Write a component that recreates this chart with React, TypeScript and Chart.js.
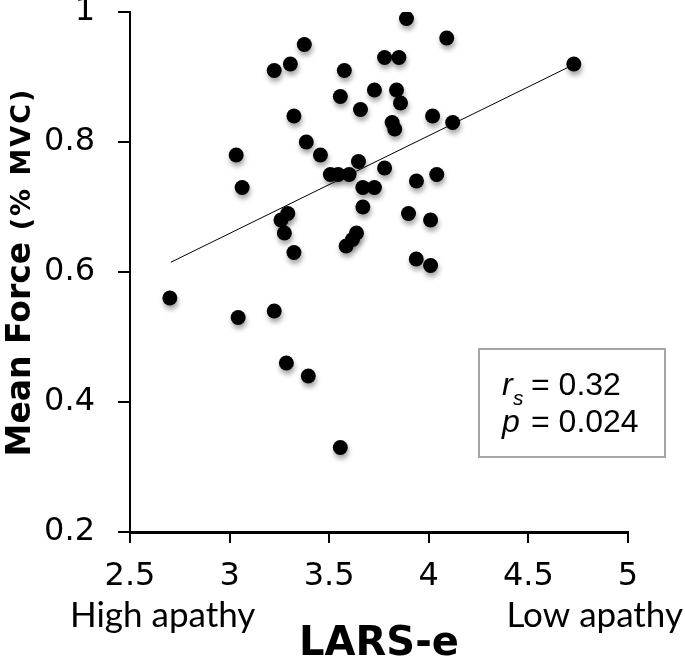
import React, { useEffect, useRef } from 'react';
import { Chart, registerables } from 'chart.js';

Chart.register(...registerables);

// LARS-e score (x) and mean force (y) per participant
const larsE = [
  3.375, 3.305, 3.224, 3.576, 3.556, 3.657, 3.323, 3.385, 3.456, 3.033,
  3.063, 3.506, 3.545, 3.600, 3.647, 3.258, 3.292, 3.275, 3.888, 4.090,
  3.778, 3.850, 4.728, 3.727, 3.838, 3.858, 3.816, 3.829, 4.019, 4.120,
  3.778, 3.669, 3.727, 3.938, 4.040, 3.669, 3.898, 4.009, 3.637, 3.617,
  3.585, 3.323, 2.700, 3.043, 3.224, 3.285, 3.395, 3.556, 3.937, 4.009,
];
const meanForce = [
  0.95, 0.92, 0.91, 0.91, 0.87, 0.85, 0.84, 0.80, 0.78, 0.78,
  0.73, 0.75, 0.75, 0.75, 0.77, 0.68, 0.69, 0.66, 0.99, 0.96,
  0.93, 0.93, 0.92, 0.88, 0.88, 0.86, 0.83, 0.82, 0.84, 0.83,
  0.76, 0.73, 0.73, 0.74, 0.75, 0.70, 0.69, 0.68, 0.66, 0.65,
  0.64, 0.63, 0.56, 0.53, 0.54, 0.46, 0.44, 0.33, 0.62, 0.61,
];

// Trend line end points
const trendX = [2.705, 4.70];
const trendY = [0.615, 0.915];

const xTickLabels = ['2.5', '3', '3.5', '4', '4.5', '5'];
const yTickLabels = ['0.2', '0.4', '0.6', '0.8', '1'];
const xEndLabels = ['High apathy', 'Low apathy'];
const xTitle = 'LARS-e';
const yTitleMain = 'Mean Force';
const yTitleUnit = '(% MVC)';
const statSymbols = ['r', 'p'];
const statSubscripts = ['s', ''];
const statValues = ['= 0.32', '= 0.024'];

const shadowPlugin = {
  id: 'dotShadow',
  beforeDatasetDraw(chart: any, args: any) {
    if (args.index === 1) {
      const c = chart.ctx;
      c.save();
      c.shadowColor = 'rgba(0,0,0,0.35)';
      c.shadowBlur = 5;
      c.shadowOffsetX = 1;
      c.shadowOffsetY = 4;
    }
  },
  afterDatasetDraw(chart: any, args: any) {
    if (args.index === 1) chart.ctx.restore();
  },
};

const textPlugin = {
  id: 'extraText',
  afterDraw(chart: any) {
    const ctx = chart.ctx;
    const area = chart.chartArea;
    ctx.save();
    ctx.fillStyle = '#000';

    // y-axis title (two font sizes, same baseline)
    ctx.save();
    const mainFont = 'bold 33px "DejaVu Sans"';
    const unitFont = 'bold 27px "DejaVu Sans"';
    ctx.font = mainFont;
    const wMain = ctx.measureText(yTitleMain + ' ').width;
    ctx.font = unitFont;
    (ctx as any).letterSpacing = '2px';
    const wUnit = ctx.measureText(yTitleUnit).width;
    (ctx as any).letterSpacing = '0px';
    const total = wMain + wUnit;
    const cy = (area.top + area.bottom) / 2;
    ctx.translate(30, cy + total / 2);
    ctx.rotate(-Math.PI / 2);
    ctx.textAlign = 'left';
    ctx.textBaseline = 'alphabetic';
    ctx.font = mainFont;
    ctx.fillText(yTitleMain, 0, 0);
    ctx.font = unitFont;
    (ctx as any).letterSpacing = '2px';
    ctx.fillText(yTitleUnit, wMain, 0);
    (ctx as any).letterSpacing = '0px';
    ctx.restore();

    // end labels under the x axis
    ctx.font = '35px Lato';
    ctx.textBaseline = 'alphabetic';
    ctx.textAlign = 'left';
    ctx.fillText(xEndLabels[0], 70, 627);
    ctx.textAlign = 'right';
    ctx.fillText(xEndLabels[1], 683, 627);

    // statistics box
    ctx.strokeStyle = '#a6a6a6';
    ctx.lineWidth = 2;
    ctx.strokeRect(479, 349, 186, 108);
    ctx.textAlign = 'left';
    const baselines = [395, 432];
    for (let i = 0; i < statSymbols.length; i++) {
      ctx.font = 'italic 32px "Liberation Sans"';
      ctx.fillText(statSymbols[i], 502, baselines[i]);
      if (statSubscripts[i]) {
        ctx.font = 'italic 21px "Liberation Sans"';
        ctx.fillText(statSubscripts[i], 513, baselines[i] + 10);
      }
      ctx.font = '32px "Liberation Sans"';
      ctx.fillText(statValues[i], 531, baselines[i]);
    }
    ctx.restore();
  },
};

export default function App() {
  const ref = useRef<HTMLCanvasElement | null>(null);

  useEffect(() => {
    if (!ref.current) return;
    const points = larsE.map((x, i) => ({ x, y: meanForce[i] }));
    const trend = trendX.map((x, i) => ({ x, y: trendY[i] }));
    const tickFont = { family: '"DejaVu Sans"', size: 32 };
    const chart = new Chart(ref.current, {
      type: 'scatter',
      data: {
        datasets: [
          {
            label: 'trend',
            data: trend,
            showLine: true,
            borderColor: '#000',
            borderWidth: 1,
            pointRadius: 0,
            fill: false,
          },
          {
            label: 'participants',
            data: points,
            pointRadius: 7.5,
            pointBackgroundColor: '#000',
            pointBorderColor: '#000',
            pointBorderWidth: 0,
          },
        ],
      },
      options: {
        animation: false,
        responsive: false,
        devicePixelRatio: 1,
        layout: { padding: { top: 12, left: 0, right: 57, bottom: 0 } },
        plugins: {
          legend: { display: false },
          tooltip: { enabled: false },
        },
        scales: {
          x: {
            type: 'linear',
            min: 2.5,
            max: 5,
            ticks: {
              stepSize: 0.5,
              color: '#000',
              font: tickFont,
              padding: 14,
              maxRotation: 0,
              autoSkip: false,
              callback: (_v: any, i: number) => xTickLabels[i],
            },
            grid: {
              display: true,
              drawOnChartArea: false,
              drawTicks: true,
              tickLength: 11,
              color: '#000',
              lineWidth: 2,
            },
            border: { display: true, color: '#000', width: 3 },
            title: {
              display: true,
              text: xTitle,
              color: '#000',
              font: { family: '"DejaVu Sans"', size: 40, weight: 'bold', lineHeight: 1 },
              padding: 0,
            },
            afterFit: (s: any) => {
              s.height = 133;
              s.paddingLeft = 0;
              s.paddingRight = 0;
            },
          },
          y: {
            type: 'linear',
            min: 0.2,
            max: 1,
            ticks: {
              stepSize: 0.2,
              color: '#000',
              font: tickFont,
              padding: 23,
              callback: (_v: any, i: number) => yTickLabels[i],
            },
            grid: {
              display: true,
              drawOnChartArea: false,
              drawTicks: true,
              tickLength: 12,
              color: '#000',
              lineWidth: 2,
            },
            border: { display: true, color: '#000', width: 2 },
            afterFit: (s: any) => {
              s.width = 130;
              s.paddingTop = 0;
              s.paddingBottom = 0;
            },
          },
        },
      },
      plugins: [shadowPlugin, textPlugin],
    });
    return () => chart.destroy();
  }, []);

  return (
    <div style={{ position: 'absolute', left: 0, top: 0, width: 685, height: 665, background: '#fff' }}>
      <canvas ref={ref} width={685} height={665} />
    </div>
  );
}
